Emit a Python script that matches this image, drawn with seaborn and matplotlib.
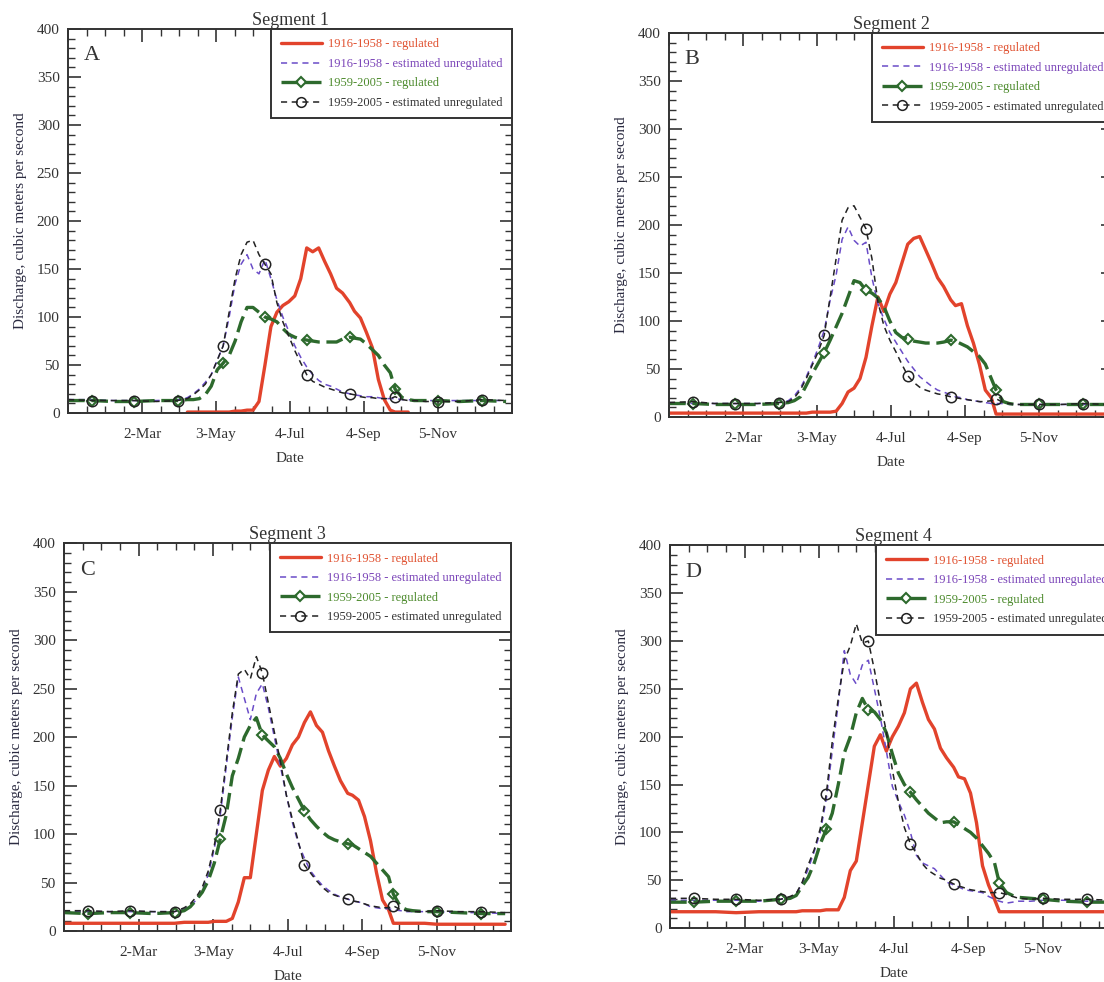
import numpy as np
import matplotlib
matplotlib.use("Agg")
import matplotlib.pyplot as plt
from matplotlib.lines import Line2D
from matplotlib.ticker import MultipleLocator, FixedLocator
import seaborn as sns

sns.set_theme(style="white")
plt.rcParams['font.family'] = ['Liberation Serif', 'DejaVu Serif']

nan = np.nan

# Day of year (0 = 1-Jan, spreadsheet style dates)
days = [0, 20, 38, 55, 74, 92,
        100, 105, 110, 115, 120, 125, 130, 135, 140, 145, 150, 155, 160, 165,
        170, 175, 180, 185, 190, 195, 200, 205, 210, 215, 220, 225, 230,
        236, 240, 245, 250, 255, 260, 265, 270, 274, 280, 285,
        290, 300, 310, 328, 347, 367]

tick_days = [0, 62, 124, 186, 248, 310, 372]
tick_labels = ['', '2-Mar', '3-May', '4-Jul', '4-Sep', '5-Nov', '']

series_labels = ['1916-1958 - regulated',
                 '1916-1958 - estimated unregulated',
                 '1959-2005 - regulated',
                 '1959-2005 - estimated unregulated']
segments = ['Segment 1', 'Segment 2', 'Segment 3', 'Segment 4']
letters = ['A', 'B', 'C', 'D']

# Segment 1
seg1_reg_1916 = [nan, nan, nan, nan, nan, nan,
                 1, 1, 1, 1, 1, 1, 1, 1, 2, 2, 3, 3, 12, 50, 90, 105, 112, 116, 122, 140, 172,
                 168, 172, 158, 145, 130, 125,
                 115, 106, 99, 84, 68, 35, 14, 3, 1, 1, 1,
                 nan, nan, nan, nan, nan, nan]
seg1_unreg_1916 = [14, 14, 13, 13, 13, 14,
                   16, 20, 25, 32, 40, 55, 70, 100, 135, 155, 165, 150, 145, 160, 140, 118, 100,
                   85, 70, 58, 48, 40, 34, 30, 28, 25, 22,
                   20, 19, 18, 17, 17, 16, 15, 15, 15, 14, 14,
                   13, 13, 13, 13, 13, 13]
seg1_reg_1959 = [13, 13, 12, 12, 13, 13,
                 14, 14, 15, 19, 28, 45, 52, 60, 75, 95, 110, 110, 105, 100, 98, 95, 88,
                 82, 79, 77, 76, 75, 74, 74, 74, 74, 77,
                 79, 78, 77, 72, 66, 60, 50, 42, 25, 16, 14,
                 13, 13, 13, 12, 13, 12]
seg1_unreg_1959 = [14, 13, 13, 13, 12, 13,
                   15, 19, 24, 30, 40, 55, 70, 105, 140, 165, 178, 180, 165, 155, 145, 115, 95,
                   80, 65, 52, 40, 33, 30, 27, 25, 23, 21,
                   20, 19, 17, 16, 16, 15, 15, 15, 17, 14, 13,
                   13, 12, 12, 12, 14, 13]

# Segment 2
seg2_reg_1916 = [4, 4, 4, 4, 4, 4,
                 4, 4, 4, 4, 5, 5, 5, 5, 6, 14, 26, 30, 40, 62, 95, 125, 110,
                 128, 140, 160, 180, 186, 188, 174, 160, 145, 136,
                 122, 116, 118, 95, 77, 55, 28, 20, 3, 3, 3,
                 3, 3, 3, 3, 3, 3]
seg2_unreg_1916 = [15, 14, 14, 14, 14, 15,
                   17, 22, 30, 42, 56, 72, 90, 122, 148, 185, 198, 184, 178, 182, 145, 118, 102,
                   88, 78, 68, 58, 50, 42, 37, 32, 28, 26,
                   23, 21, 20, 18, 17, 16, 15, 14, 14, 14, 13,
                   13, 13, 13, 13, 13, 13]
seg2_reg_1959 = [14, 14, 13, 13, 13, 14,
                 15, 17, 21, 33, 45, 56, 67, 80, 94, 108, 125, 142, 140, 132, 129, 124, 115,
                 100, 88, 83, 81, 79, 78, 77, 77, 77, 78,
                 80, 79, 76, 73, 68, 63, 55, 40, 28, 16, 14,
                 13, 13, 13, 13, 13, 13]
seg2_unreg_1959 = [15, 16, 14, 14, 14, 15,
                   16, 20, 28, 40, 54, 68, 85, 125, 165, 205, 218, 220, 208, 196, 165, 120, 95,
                   80, 68, 55, 43, 36, 31, 28, 26, 24, 23,
                   21, 20, 19, 18, 17, 16, 16, 17, 19, 15, 14,
                   13, 13, 13, 13, 14, 13]

# Segment 3
seg3_reg_1916 = [8, 8, 8, 8, 8, 8,
                 9, 9, 9, 9, 9, 10, 10, 10, 13, 30, 55, 55, 100, 145, 166, 180, 170,
                 178, 192, 200, 215, 226, 212, 205, 186, 170, 155,
                 142, 140, 135, 118, 93, 60, 32, 22, 8, 8, 8,
                 8, 8, 7, 7, 7, 7]
seg3_unreg_1916 = [20, 20, 20, 20, 20, 20,
                   23, 26, 32, 42, 58, 85, 120, 170, 220, 262, 240, 218, 245, 255, 230, 200, 170,
                   140, 112, 90, 75, 62, 54, 47, 42, 38, 35,
                   33, 31, 30, 28, 25, 24, 23, 23, 22, 21, 20,
                   20, 20, 20, 19, 19, 18]
seg3_reg_1959 = [19, 18, 19, 19, 18, 19,
                 21, 25, 32, 40, 52, 70, 95, 120, 160, 178, 200, 212, 220, 202, 196, 190, 178,
                 162, 148, 136, 124, 115, 108, 102, 97, 94, 92,
                 90, 89, 85, 81, 77, 70, 63, 56, 38, 25, 22,
                 21, 20, 20, 19, 18, 18]
seg3_unreg_1959 = [21, 21, 20, 21, 20, 20,
                   24, 28, 35, 45, 62, 88, 125, 175, 225, 265, 270, 260, 283, 266, 235, 205, 175,
                   140, 115, 92, 68, 60, 52, 45, 40, 37, 35,
                   33, 31, 30, 28, 26, 25, 24, 24, 26, 22, 21,
                   20, 20, 21, 20, 20, 19]

# Segment 4
seg4_reg_1916 = [17, 17, 17, 16, 17, 17,
                 17, 17, 18, 18, 18, 18, 19, 19, 19, 32, 60, 70, 110, 150, 190, 202, 185,
                 200, 211, 225, 250, 256, 236, 218, 208, 188, 178,
                 168, 158, 156, 141, 110, 65, 45, 30, 17, 17, 17,
                 17, 17, 17, 17, 17, 17]
seg4_unreg_1916 = [29, 29, 29, 29, 28, 30,
                   32, 36, 46, 62, 80, 100, 135, 185, 235, 290, 265, 255, 275, 280, 250, 220, 185,
                   148, 132, 118, 100, 76, 68, 65, 62, 55, 48,
                   45, 43, 40, 39, 38, 37, 33, 30, 28, 26, 27,
                   28, 28, 29, 29, 28, 28]
seg4_reg_1959 = [27, 27, 28, 28, 28, 30,
                 31, 34, 44, 53, 68, 88, 103, 120, 150, 183, 200, 225, 240, 228, 226, 218, 204,
                 182, 162, 150, 142, 134, 127, 120, 115, 110, 111,
                 111, 108, 104, 100, 94, 86, 78, 68, 47, 37, 34,
                 32, 31, 30, 28, 27, 27]
seg4_unreg_1959 = [31, 31, 30, 30, 29, 30,
                   33, 36, 48, 66, 82, 104, 140, 195, 240, 280, 295, 318, 298, 300, 270, 236, 205,
                   165, 132, 105, 88, 78, 67, 60, 56, 52, 50,
                   46, 44, 42, 40, 39, 38, 37, 37, 37, 35, 33,
                   31, 30, 31, 30, 30, 29]

panel_data = [
    (seg1_reg_1916, seg1_unreg_1916, seg1_reg_1959, seg1_unreg_1959),
    (seg2_reg_1916, seg2_unreg_1916, seg2_reg_1959, seg2_unreg_1959),
    (seg3_reg_1916, seg3_unreg_1916, seg3_reg_1959, seg3_unreg_1959),
    (seg4_reg_1916, seg4_unreg_1916, seg4_reg_1959, seg4_unreg_1959),
]

# Styles
RED = '#e2432c'
PURPLE = '#6a4cc8'
GREEN = '#2d6a2d'
BLACK = '#222222'
INK = '#333333'
text_colors = ['#e0502f', '#7a44b8', '#4c8a2c', '#333333']
mark_idx = [1, 3, 5, 12, 19, 26, 33, 41, 46, 48]  # roughly every 37 days

# axes rectangles in figure fractions (right column runs off the page edge)
rects = [
    [0.0616, 0.5794, 0.4022, 0.3910],
    [0.6060, 0.5754, 0.4022, 0.3910],
    [0.0580, 0.0519, 0.4050, 0.3950],
    [0.6069, 0.0550, 0.4050, 0.3896],
]


def draw_panel(ax, data, title, letter):
    reg16, unreg16, reg59, unreg59 = data
    sns.lineplot(x=days, y=reg16, ax=ax, color=RED, lw=2.4, sort=False)
    sns.lineplot(x=days, y=unreg16, ax=ax, color=PURPLE, lw=1.1,
                 linestyle=(0, (4, 3)), sort=False)
    sns.lineplot(x=days, y=reg59, ax=ax, color=GREEN, lw=2.4,
                 linestyle=(0, (5, 2)), sort=False,
                 marker='D', markevery=mark_idx, markersize=5,
                 markerfacecolor='none', markeredgecolor=GREEN, markeredgewidth=1.5)
    sns.lineplot(x=days, y=unreg59, ax=ax, color=BLACK, lw=1.1,
                 linestyle=(0, (4, 3)), sort=False,
                 marker='o', markevery=mark_idx, markersize=7.5,
                 markerfacecolor='none', markeredgecolor=BLACK, markeredgewidth=1.1)

    ax.set_xlim(0, 372)
    ax.set_ylim(0, 400)
    ax.xaxis.set_major_locator(FixedLocator(tick_days))
    ax.set_xticklabels(tick_labels)
    ax.xaxis.set_minor_locator(MultipleLocator(15.5))
    ax.yaxis.set_major_locator(MultipleLocator(50))
    ax.yaxis.set_minor_locator(MultipleLocator(10))
    ax.tick_params(which='both', direction='in', top=True, right=True,
                   bottom=True, left=True, colors=INK, labelcolor=INK)
    ax.tick_params(which='major', length=9, width=1.2, labelsize=11)
    ax.tick_params(which='minor', length=5, width=1.0)
    ax.tick_params(axis='x', which='major', pad=11)
    ax.tick_params(axis='y', which='major', pad=6)
    for s in ax.spines.values():
        s.set_color(INK)
        s.set_linewidth(1.4)

    ax.set_title(title, fontsize=13, pad=3, color=INK)
    ax.set_xlabel('Date', fontsize=11, labelpad=8, color=INK)
    ax.set_ylabel('Discharge, cubic meters per second', fontsize=11,
                  labelpad=7, color='#2a2a40')
    ax.text(0.035, 0.955, letter, transform=ax.transAxes, fontsize=16,
            va='top', ha='left', color=INK)

    handles = [
        Line2D([], [], color=RED, lw=2.4),
        Line2D([], [], color=PURPLE, lw=1.1, ls=(0, (4, 3))),
        Line2D([], [], color=GREEN, lw=2.4, ls=(0, (5, 2)), marker='D', ms=5,
               mfc='none', mec=GREEN, mew=1.5),
        Line2D([], [], color=BLACK, lw=1.1, ls=(0, (4, 3)), marker='o', ms=7,
               mfc='none', mec=BLACK, mew=1.1),
    ]
    leg = ax.legend(handles, series_labels, loc='upper right', borderaxespad=0,
                    frameon=True, fancybox=False, framealpha=1, edgecolor=INK,
                    fontsize=9, handlelength=3.3, handletextpad=0.5,
                    labelspacing=0.6, borderpad=0.75, numpoints=1)
    leg.get_frame().set_linewidth(1.4)
    for t, c in zip(leg.get_texts(), text_colors):
        t.set_color(c)


fig = plt.figure(figsize=(11.04, 9.82), dpi=100)
for rect, data, title, letter in zip(rects, panel_data, segments, letters):
    ax = fig.add_axes(rect)
    draw_panel(ax, data, title, letter)

fig.savefig('out.png', dpi=100)
plt.close(fig)
